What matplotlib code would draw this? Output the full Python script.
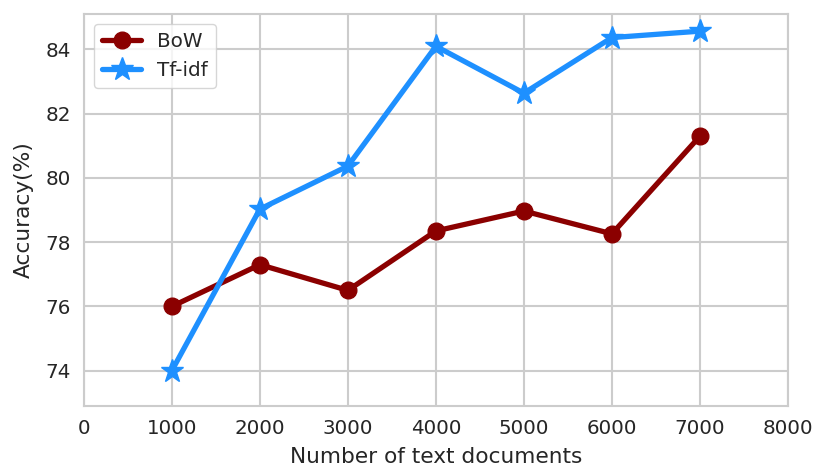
import matplotlib
matplotlib.use("Agg")
import matplotlib.pyplot as plt
import seaborn as sns

docs = [1000, 2000, 3000, 4000, 5000, 6000, 7000]
bow = [76.0, 77.3, 76.5, 78.35, 78.97, 78.26, 81.3]
tfidf = [74.0, 79.03, 80.37, 84.1, 82.64, 84.37, 84.57]

sns.set_theme(style="whitegrid", font_scale=1.3)
plt.rcParams['axes.edgecolor'] = '#cccccc'
plt.rcParams['axes.linewidth'] = 1.5
plt.rcParams['grid.linewidth'] = 1.5

fig, ax = plt.subplots(figsize=(8.14, 4.71), dpi=100)
ax.plot(docs, bow, color='darkred', marker='o', lw=3.8, ms=12, label='BoW')
ax.plot(docs, tfidf, color='dodgerblue', marker='*', lw=3.8, ms=17, label='Tf-idf')
ax.set_xlim(0, 8000)
ax.set_ylim(72.9, 85.1)
ax.set_yticks([74, 76, 78, 80, 82, 84])
ax.set_xlabel('Number of text documents', labelpad=6)
ax.set_ylabel('Accuracy(%)', labelpad=8)
ax.legend(loc='upper left')
fig.subplots_adjust(left=0.103, right=0.968, top=0.970, bottom=0.138)
plt.savefig('out.png')
